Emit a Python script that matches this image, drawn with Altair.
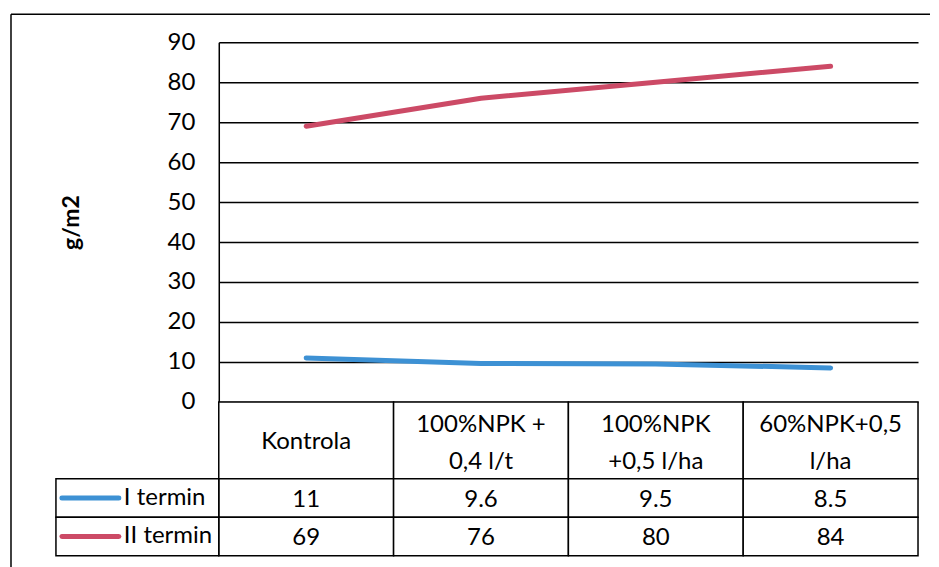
import altair as alt
import pandas as pd

# ---- data ----
categories = ["Kontrola", "100%NPK + 0,4 l/t", "100%NPK +0,5 l/ha", "60%NPK+0,5 l/ha"]
header_labels = ["Kontrola", "100%NPK +\n0,4 l/t", "100%NPK\n+0,5 l/ha", "60%NPK+0,5\nl/ha"]
series_names = ["I termin", "II termin"]
values_i = [11, 9.6, 9.5, 8.5]
values_ii = [69, 76, 80, 84]
text_i = ["11", "9.6", "9.5", "8.5"]
text_ii = ["69", "76", "80", "84"]
series_colors = ["#3d91d4", "#cc4a66"]
y_ticks = [0, 10, 20, 30, 40, 50, 60, 70, 80, 90]
y_title = "g/m2"

FONT = "Lato"
FS = 24
LH = 37

# ---- tables built from the lists ----
line_rows = []
for s, vals in zip(series_names, [values_i, values_ii]):
    for c, v in zip(categories, vals):
        line_rows.append({"category": c, "series": s, "value": v})
line_df = pd.DataFrame(line_rows)

cell_rows = []
for c, h in zip(categories, header_labels):
    cell_rows.append({"category": c, "label": h, "y0": 0, "y1": 2, "ym": 1,
                      "nlines": h.count("\n") + 1})
for c, t in zip(categories, text_i):
    cell_rows.append({"category": c, "label": t, "y0": 2, "y1": 3, "ym": 2.5, "nlines": 1})
for c, t in zip(categories, text_ii):
    cell_rows.append({"category": c, "label": t, "y0": 3, "y1": 4, "ym": 3.5, "nlines": 1})
cell_df = pd.DataFrame(cell_rows)

legend_df = pd.DataFrame({
    "series": series_names,
    "y0": [2, 3],
    "y1": [3, 4],
    "ym": [2.5, 3.5],
})
one = pd.DataFrame({"k": [0]})

color_scale = alt.Scale(domain=series_names, range=series_colors)
W = 700
H_TOP = 360
H_TAB = 154

# ---- top: line chart ----
lines = alt.Chart(line_df).mark_line(
    strokeWidth=5, strokeCap="round", strokeJoin="round"
).encode(
    x=alt.X("category:N", sort=categories,
            scale=alt.Scale(type="point", domain=categories, padding=0.5), axis=None),
    y=alt.Y("value:Q", scale=alt.Scale(domain=[0, 90], nice=False),
            axis=alt.Axis(values=y_ticks, title=y_title, grid=True, gridColor="black",
                          gridWidth=1.5, domainColor="black", domainWidth=1.5,
                          ticks=False, labelFont=FONT, labelFontSize=FS,
                          labelColor="black", labelPadding=24,
                          titleFont=FONT, titleFontSize=23, titleFontWeight="bold",
                          titleColor="black", titlePadding=84)),
    color=alt.Color("series:N", scale=color_scale, legend=None),
)

top_border = alt.Chart(one).mark_rule(color="black", strokeWidth=1.5).encode(
    x=alt.value(-208), x2=alt.value(712), y=alt.value(-28)
)
left_border_top = alt.Chart(one).mark_rule(color="black", strokeWidth=1.5).encode(
    x=alt.value(-208), y=alt.value(-28), y2=alt.value(H_TOP)
)

top = alt.layer(top_border, left_border_top, lines).properties(width=W, height=H_TOP)

# ---- bottom: data table ----
yscale = alt.Scale(domain=[0, 4], reverse=True, nice=False)
xband = alt.Scale(type="band", domain=categories, paddingInner=0, paddingOuter=0)

cells = alt.Chart(cell_df).mark_rect(
    fill="white", stroke="black", strokeWidth=1.5
).encode(
    x=alt.X("category:N", scale=xband, axis=None),
    y=alt.Y("y0:Q", scale=yscale, axis=None),
    y2="y1:Q",
)

def cell_text_layer(n, dy):
    return alt.Chart(cell_df).transform_filter(
        alt.datum.nlines == n
    ).mark_text(
        font=FONT, fontSize=FS, color="black", lineBreak="\n", lineHeight=LH,
        align="center", baseline="middle", dy=dy
    ).encode(
        x=alt.X("category:N", scale=xband, bandPosition=0.5, axis=None),
        y=alt.Y("ym:Q", scale=yscale, axis=None),
        text="label:N",
    )

text_one = cell_text_layer(1, 2)
text_two = cell_text_layer(2, -15)

leg_box = alt.Chart(legend_df).mark_rect(
    fill="white", stroke="black", strokeWidth=1.5
).encode(
    x=alt.value(-163), x2=alt.value(0),
    y=alt.Y("y0:Q", scale=yscale, axis=None), y2="y1:Q",
)
leg_sym = alt.Chart(legend_df).mark_rule(strokeWidth=5, strokeCap="round").encode(
    x=alt.value(-157), x2=alt.value(-100),
    y=alt.Y("ym:Q", scale=yscale, axis=None),
    color=alt.Color("series:N", scale=color_scale, legend=None),
)
leg_text = alt.Chart(legend_df).mark_text(
    font=FONT, fontSize=FS, color="black", align="left", baseline="middle"
).encode(
    x=alt.value(-95),
    y=alt.Y("ym:Q", scale=yscale, axis=None),
    text="series:N",
)
left_border_bot = alt.Chart(one).mark_rule(color="black", strokeWidth=1.5).encode(
    x=alt.value(-208), y=alt.value(0), y2=alt.value(H_TAB + 12)
)

table = alt.layer(left_border_bot, cells, text_one, text_two, leg_box, leg_sym, leg_text).properties(
    width=W, height=H_TAB
)

chart = alt.vconcat(top, table, spacing=0, bounds="flush").properties(
    padding={"left": 2, "top": 5, "right": 0, "bottom": 0}
).configure_view(strokeWidth=0)

chart.save("out.html", embed_options={"renderer": "svg", "actions": False})
